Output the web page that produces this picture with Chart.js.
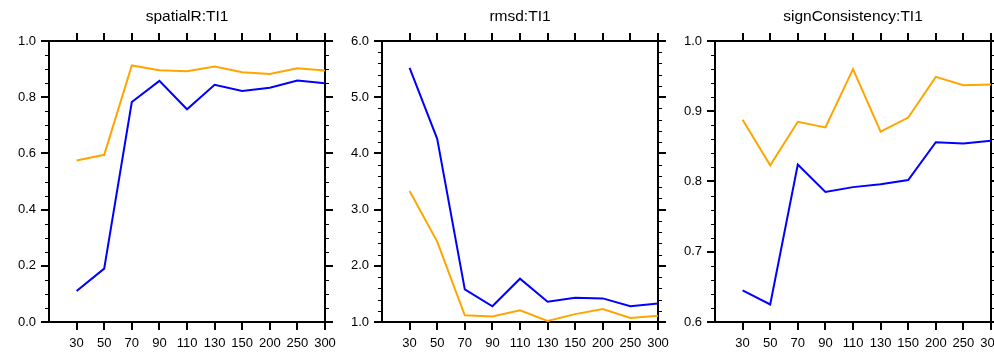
<!DOCTYPE html>
<html>
<head>
<meta charset="utf-8">
<script src="https://cdn.jsdelivr.net/npm/chart.js@4/dist/chart.umd.min.js"></script>
<style>
  html, body { margin: 0; padding: 0; background: #fff; overflow: hidden; }
  #wrap { position: relative; width: 994px; height: 352px; overflow: hidden; }
  .panel { position: absolute; top: 0; width: 345px; height: 352px; }
</style>
</head>
<body>
<div id="wrap">
  <div class="panel" style="left:0px"><canvas id="c1" width="345" height="352"></canvas></div>
  <div class="panel" style="left:333px"><canvas id="c2" width="345" height="352"></canvas></div>
  <div class="panel" style="left:666px"><canvas id="c3" width="345" height="352"></canvas></div>
</div>
<script>
// x categories shared by all three panels
const categories = ['30', '50', '70', '90', '110', '130', '150', '200', '250', '300'];

// spatialR
const spatialRBlue   = [0.110, 0.190, 0.783, 0.858, 0.757, 0.844, 0.822, 0.834, 0.859, 0.850];
const spatialROrange = [0.575, 0.595, 0.913, 0.896, 0.892, 0.909, 0.889, 0.883, 0.903, 0.895];

// rmsd
const rmsdBlue   = [5.52, 4.26, 1.58, 1.28, 1.77, 1.36, 1.43, 1.42, 1.28, 1.33];
const rmsdOrange = [3.33, 2.43, 1.12, 1.10, 1.21, 1.02, 1.14, 1.23, 1.07, 1.11];

// signConsistency
const signBlue   = [0.645, 0.625, 0.824, 0.785, 0.792, 0.796, 0.802, 0.856, 0.854, 0.858];
const signOrange = [0.888, 0.823, 0.885, 0.877, 0.960, 0.871, 0.891, 0.949, 0.937, 0.938];

const FONT = '"Liberation Sans", Arial, Helvetica, sans-serif';

const panelTitle = {
    id: 'panelTitle',
    afterDraw(chart, args, opts) {
        const ctx = chart.ctx;
        const a = chart.chartArea;
        ctx.save();
        ctx.fillStyle = '#000';
        ctx.font = '15.5px ' + FONT;
        ctx.textAlign = 'center';
        ctx.textBaseline = 'middle';
        ctx.fillText(opts.text, (a.left + a.right) / 2, 16.5);
        ctx.restore();
    }
};

// little ticks between the labelled ones on both y axes
const minorTicks = {
    id: 'minorTicks',
    afterDraw(chart, args, opts) {
        const ctx = chart.ctx;
        const ys = chart.scales.y;
        const a = chart.chartArea;
        const step = opts.major / opts.per;
        const n = Math.round((ys.max - ys.min) / step);
        ctx.save();
        ctx.strokeStyle = '#000';
        ctx.lineWidth = 1;
        ctx.beginPath();
        for (let i = 0; i <= n; i++) {
            if (i % opts.per === 0) continue;
            const py = Math.round(ys.getPixelForValue(ys.min + i * step)) + 0.5;
            ctx.moveTo(a.left - 4, py);
            ctx.lineTo(a.left, py);
            ctx.moveTo(a.right, py);
            ctx.lineTo(a.right + 4, py);
        }
        ctx.stroke();
        ctx.restore();
    }
};

const tickColor = ctx => (ctx.tick && ctx.tick.value < 0) ? 'rgba(0,0,0,0)' : '#000';

// fixed box sizes so every panel gets the same plot area
const fixBox = (w, h) => s => {
    if (w !== null) s.width = w;
    if (h !== null) s.height = h;
    s.paddingLeft = 0; s.paddingRight = 0;
    s.paddingTop = 0; s.paddingBottom = 0;
};

function makePanel(id, title, blue, orange, min, max, major, per) {
    const xGrid = { drawOnChartArea: false, drawTicks: true, tickLength: 8, lineWidth: 2, color: tickColor };
    const yGrid = { drawOnChartArea: false, drawTicks: true, tickLength: 8, lineWidth: 2, color: '#000' };
    const border = { display: true, color: '#000', width: 2 };

    new Chart(document.getElementById(id), {
        type: 'line',
        data: {
            datasets: [
                {
                    data: blue.map((v, i) => ({ x: i, y: v })),
                    borderColor: '#0000ff',
                    borderWidth: 2,
                    pointRadius: 0,
                    tension: 0,
                },
                {
                    data: orange.map((v, i) => ({ x: i, y: v })),
                    borderColor: '#ffa500',
                    borderWidth: 2,
                    pointRadius: 0,
                    tension: 0,
                }
            ]
        },
        options: {
            responsive: false,
            animation: false,
            layout: { padding: 0 },
            scales: {
                x: {
                    type: 'linear', position: 'bottom', min: -1, max: 9,
                    ticks: {
                        stepSize: 1, autoSkip: false, maxRotation: 0, padding: 6,
                        color: '#000', font: { family: FONT, size: 13 },
                        callback: v => categories[v] ?? ''
                    },
                    grid: xGrid, border: border,
                    afterFit: fixBox(null, 30)
                },
                x2: {
                    type: 'linear', position: 'top', min: -1, max: 9,
                    ticks: { stepSize: 1, display: false },
                    grid: xGrid, border: border,
                    afterFit: fixBox(null, 41)
                },
                y: {
                    type: 'linear', position: 'left', min: min, max: max,
                    ticks: {
                        stepSize: major, padding: 5,
                        color: '#000', font: { family: FONT, size: 13 },
                        callback: v => v.toFixed(1)
                    },
                    grid: yGrid, border: border,
                    afterFit: fixBox(49, null)
                },
                y2: {
                    type: 'linear', position: 'right', min: min, max: max,
                    ticks: { stepSize: major, display: false },
                    grid: yGrid, border: border,
                    afterFit: fixBox(20, null)
                }
            },
            plugins: {
                legend: { display: false },
                tooltip: { enabled: false },
                panelTitle: { text: title },
                minorTicks: { major: major, per: per }
            }
        },
        plugins: [panelTitle, minorTicks]
    });
}

makePanel('c1', 'spatialR:TI1', spatialRBlue, spatialROrange, 0, 1, 0.2, 4);
makePanel('c2', 'rmsd:TI1', rmsdBlue, rmsdOrange, 1, 6, 1, 5);
makePanel('c3', 'signConsistency:TI1', signBlue, signOrange, 0.6, 1, 0.1, 5);
</script>
</body>
</html>
